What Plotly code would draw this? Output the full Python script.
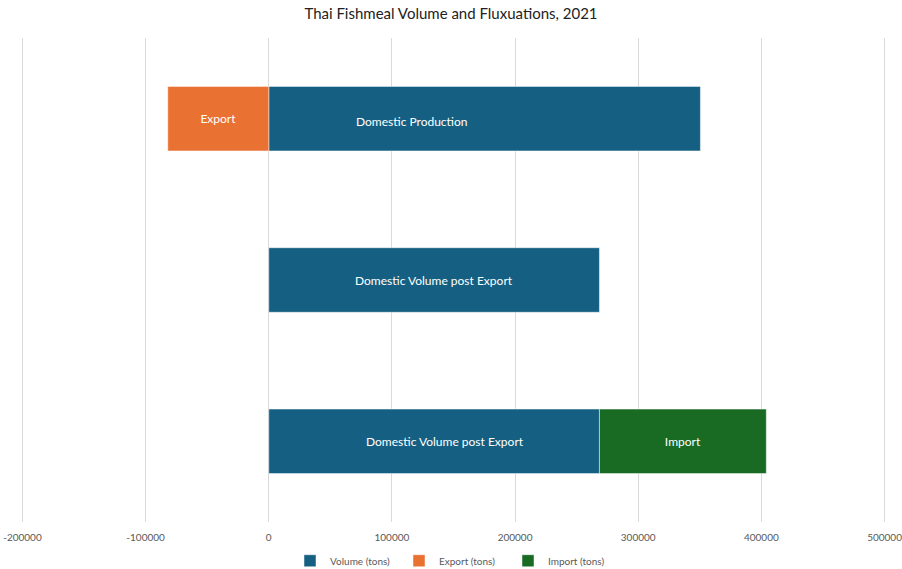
import plotly.graph_objects as go

categories = ["Domestic Production", "Domestic Volume post Export", "Domestic Volume post Export + Import"]
volume = [350500, 268500, 268500]
export = [-82000, None, None]
imports = [None, None, 135500]
volume_labels = ["Domestic Production", "Domestic Volume post Export", "Domestic Volume post Export"]
tick_vals = [-200000, -100000, 0, 100000, 200000, 300000, 400000, 500000]

BLUE = "#156082"
ORANGE = "#E97132"
GREEN = "#196B24"
FONT = "Lato, 'Open Sans', sans-serif"

fig = go.Figure()
fig.add_trace(go.Bar(
    y=categories, x=volume, orientation="h", name="Volume (tons)",
    marker=dict(color=BLUE, line=dict(color="rgba(255,255,255,0.6)", width=0.8)),
    hoverinfo="x+y",
))
fig.add_trace(go.Bar(
    y=categories, x=export, orientation="h", name="Export (tons)",
    marker=dict(color=ORANGE, line=dict(color="rgba(255,255,255,0.6)", width=0.8)),
    text=["Export", "", ""], textposition="inside", insidetextanchor="middle",
    textfont=dict(color="white", size=12, family=FONT),
))
fig.add_trace(go.Bar(
    y=categories, x=imports, orientation="h", name="Import (tons)",
    marker=dict(color=GREEN, line=dict(color="rgba(255,255,255,0.6)", width=0.8)),
    text=["", "", "Import"], textposition="inside", insidetextanchor="middle",
    textfont=dict(color="white", size=12, family=FONT),
))

# volume labels as annotations (Excel placed them slightly off-centre)
label_shift = [-73, 0, 11]
label_yshift = [-3, 0, 0]
for cat, v, lab, dx, dy in zip(categories, volume, volume_labels, label_shift, label_yshift):
    fig.add_annotation(x=v / 2, y=cat, text=lab, showarrow=False, xshift=dx, yshift=dy,
                       font=dict(color="white", size=12, family=FONT))

fig.update_layout(
    width=902, height=569,
    margin=dict(l=20, r=15, t=38, b=47, autoexpand=False),
    barmode="relative", bargap=0.6,
    paper_bgcolor="white", plot_bgcolor="white",
    title=dict(text="Thai Fishmeal Volume and Fluxuations, 2021", x=0.5, xanchor="center",
               y=0.975, yanchor="middle",
               font=dict(size=15, color="#222222", family=FONT)),
    font=dict(family=FONT),
    legend=dict(orientation="h", x=0.5, xanchor="center", y=-0.08, yanchor="middle",
                font=dict(size=10, color="#595959", family=FONT),
                itemwidth=30, tracegroupgap=0, entrywidth=64, entrywidthmode="pixels"),
    showlegend=True,
)
fig.update_xaxes(range=[-202000, 502000], tickvals=tick_vals, ticktext=[str(v) for v in tick_vals],
                 showgrid=True, gridcolor="#D9D9D9", gridwidth=1,
                 zeroline=True, zerolinecolor="#D9D9D9", zerolinewidth=1,
                 tickfont=dict(size=10, color="#595959", family=FONT), ticks="", showline=False,
                 ticklabelstandoff=8, ticklabeloverflow="allow", automargin=False, fixedrange=True)
fig.update_yaxes(categoryorder="array", categoryarray=categories[::-1], showticklabels=False,
                 showgrid=False, zeroline=False, showline=False, fixedrange=True)

fig.write_html("out.html")
